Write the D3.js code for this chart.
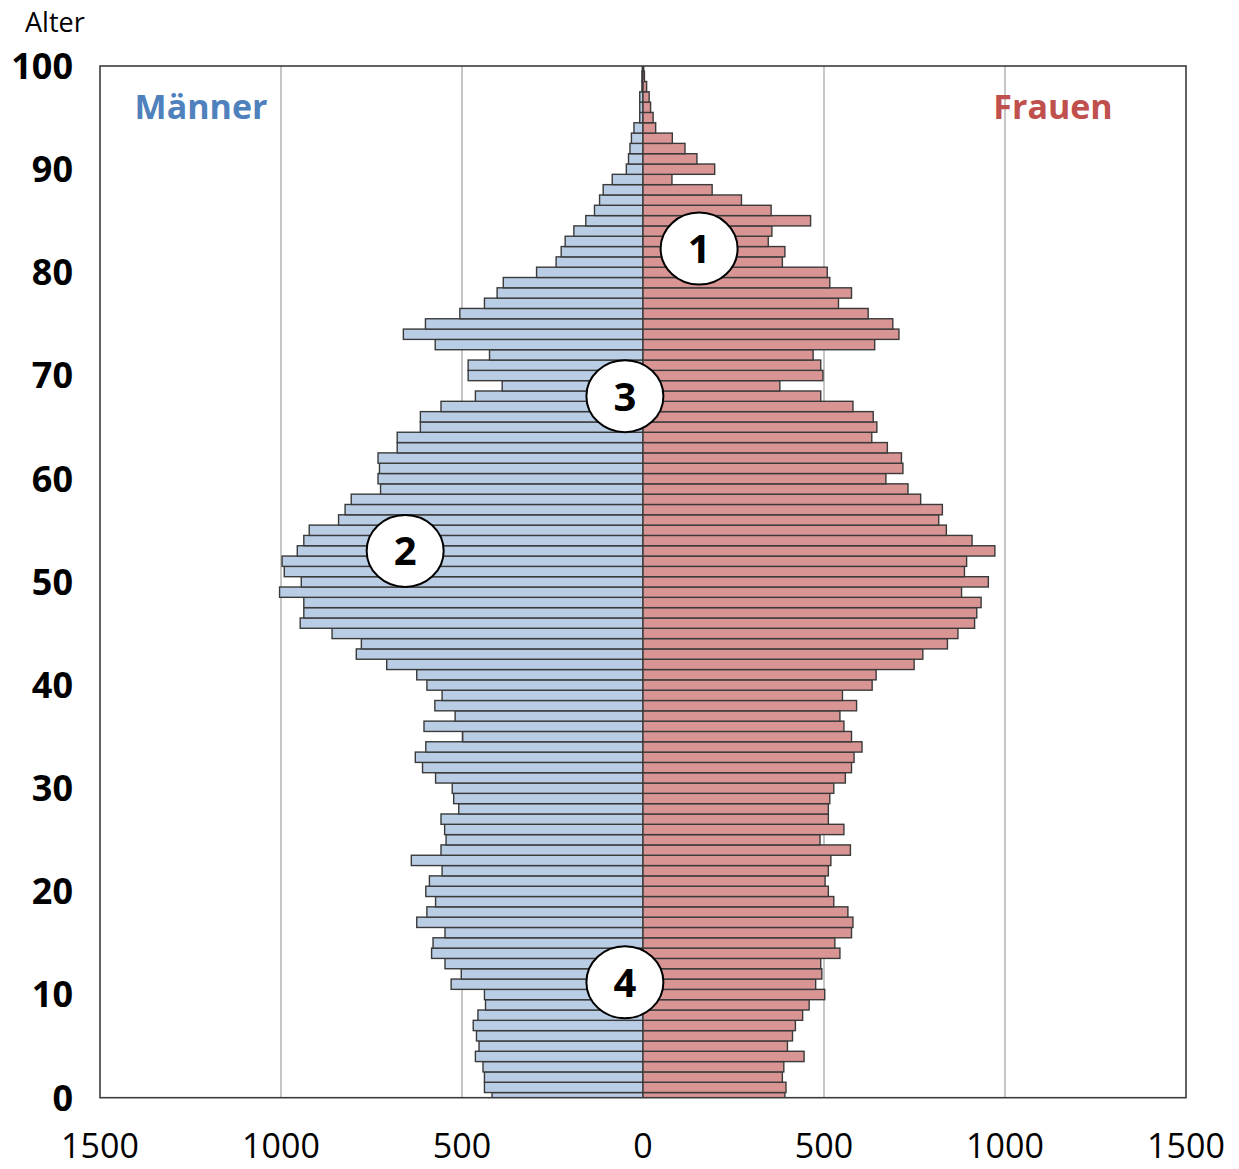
<!DOCTYPE html>
<html>
<head>
<meta charset="utf-8">
<script src="https://cdn.jsdelivr.net/npm/d3@7"></script>
<style>
  html, body { margin: 0; padding: 0; background: #fff; }
  svg { display: block; font-family: "Open Sans", "Liberation Sans", sans-serif; }
</style>
</head>
<body>
<svg id="chart" width="1239" height="1169"></svg>
<script>
// Ages 0..100
const ages = d3.range(0, 101);
// Männer (left side)
const male = [417,438,438,442,463,453,460,469,456,435,
  438,530,502,547,584,580,547,625,597,573,
  600,590,555,640,558,544,548,558,509,523,
  527,573,609,629,600,498,605,519,575,555,
  597,625,708,792,778,859,947,937,937,1004,
  944,991,997,955,937,922,841,823,806,725,
  732,728,732,679,679,615,615,558,463,389,
  483,483,424,574,662,601,506,438,403,386,
  294,240,226,215,191,158,134,120,110,85,
  46,40,36,32,25,9,9,9,3,3,2];
// Frauen (right side)
const female = [392,395,385,389,445,399,413,421,441,459,
  502,477,494,491,544,530,576,580,566,527,
  512,503,512,519,573,489,555,512,512,516,
  527,559,576,583,605,576,555,544,590,551,
  633,644,749,773,841,870,916,922,934,880,
  954,888,894,972,909,838,817,827,767,732,
  671,718,714,675,632,646,636,580,491,378,
  497,491,470,640,707,690,622,540,576,516,
  509,385,392,346,356,463,354,272,191,80,
  198,149,116,81,35,28,21,17,10,4,2];
const xTicks = [-1500,-1000,-500,0,500,1000,1500];
const xTickLabels = ["1500","1000","500","0","500","1000","1500"];
const yTicks = [0,10,20,30,40,50,60,70,80,90,100];
const gridValues = [-1000,-500,500,1000];
// Annotation markers (value, age)
const markerLabels = ["1","2","3","4"];
const markerValues = [155,-657,-50,-50];
const markerAges = [82.3,53,68,11.2];

const svg = d3.select("#chart");
const L = 100, R = 1186, T = 66, B = 1097.7;

const x = d3.scaleLinear().domain([-1500,1500]).range([L,R]);
const y = d3.scaleLinear().domain([0,100]).range([B,T]);

svg.append("defs").append("clipPath").attr("id","plotclip")
  .append("rect").attr("x",L).attr("y",T).attr("width",R-L).attr("height",B-T);

// gridlines
svg.append("g").selectAll("line").data(gridValues).join("line")
  .attr("x1",d=>x(d)).attr("x2",d=>x(d)).attr("y1",T).attr("y2",B)
  .attr("stroke","#b3b3b3").attr("stroke-width",1.5);

const bars = svg.append("g").attr("clip-path","url(#plotclip)");
const rows = ages.map((a,i)=>({age:a, m:male[i], f:female[i]}));

bars.selectAll("rect.m").data(rows).join("rect").attr("class","m")
  .attr("x",d=>x(-d.m)).attr("width",d=>x(0)-x(-d.m))
  .attr("y",d=>y(d.age+0.5)).attr("height",d=>y(d.age-0.5)-y(d.age+0.5))
  .attr("fill","#b9cde5").attr("stroke","#3a3a3a").attr("stroke-width",1.4);

bars.selectAll("rect.f").data(rows).join("rect").attr("class","f")
  .attr("x",x(0)).attr("width",d=>x(d.f)-x(0))
  .attr("y",d=>y(d.age+0.5)).attr("height",d=>y(d.age-0.5)-y(d.age+0.5))
  .attr("fill","#d99594").attr("stroke","#3a3a3a").attr("stroke-width",1.4);

// frame
svg.append("rect").attr("x",L).attr("y",T).attr("width",R-L).attr("height",B-T)
  .attr("fill","none").attr("stroke","#3c3c3c").attr("stroke-width",1.6);

// y tick labels
svg.append("g").selectAll("text").data(yTicks).join("text")
  .attr("x",73).attr("y",d=>y(d)).attr("dy","0.36em")
  .attr("text-anchor","end").attr("font-weight","bold").attr("font-size",36)
  .attr("fill","#000").text(d=>d);

// x tick labels
svg.append("g").selectAll("text").data(xTicks).join("text")
  .attr("x",d=>x(d)).attr("y",1158)
  .attr("text-anchor","middle").attr("font-size",34).attr("fill","#000")
  .text((d,i)=>xTickLabels[i]);

svg.append("text").attr("x",25).attr("y",32).attr("font-size",27).attr("fill","#000").text("Alter");
svg.append("text").attr("x",201).attr("y",119).attr("text-anchor","middle")
  .attr("font-size",34).attr("font-weight","bold").attr("fill","#4f81bd").text("Männer");
svg.append("text").attr("x",1053).attr("y",119).attr("text-anchor","middle")
  .attr("font-size",34).attr("font-weight","bold").attr("fill","#c0504d").text("Frauen");

// markers
const mk = svg.append("g").selectAll("g").data(markerLabels).join("g")
  .attr("transform",(d,i)=>`translate(${x(markerValues[i])},${y(markerAges[i])})`);
mk.append("ellipse").attr("rx",38.5).attr("ry",36).attr("fill","#fff")
  .attr("stroke","#000").attr("stroke-width",2);
mk.append("text").attr("text-anchor","middle").attr("dy","0.36em")
  .attr("font-size",40).attr("font-weight","bold").attr("fill","#000").text(d=>d);
</script>
</body>
</html>
